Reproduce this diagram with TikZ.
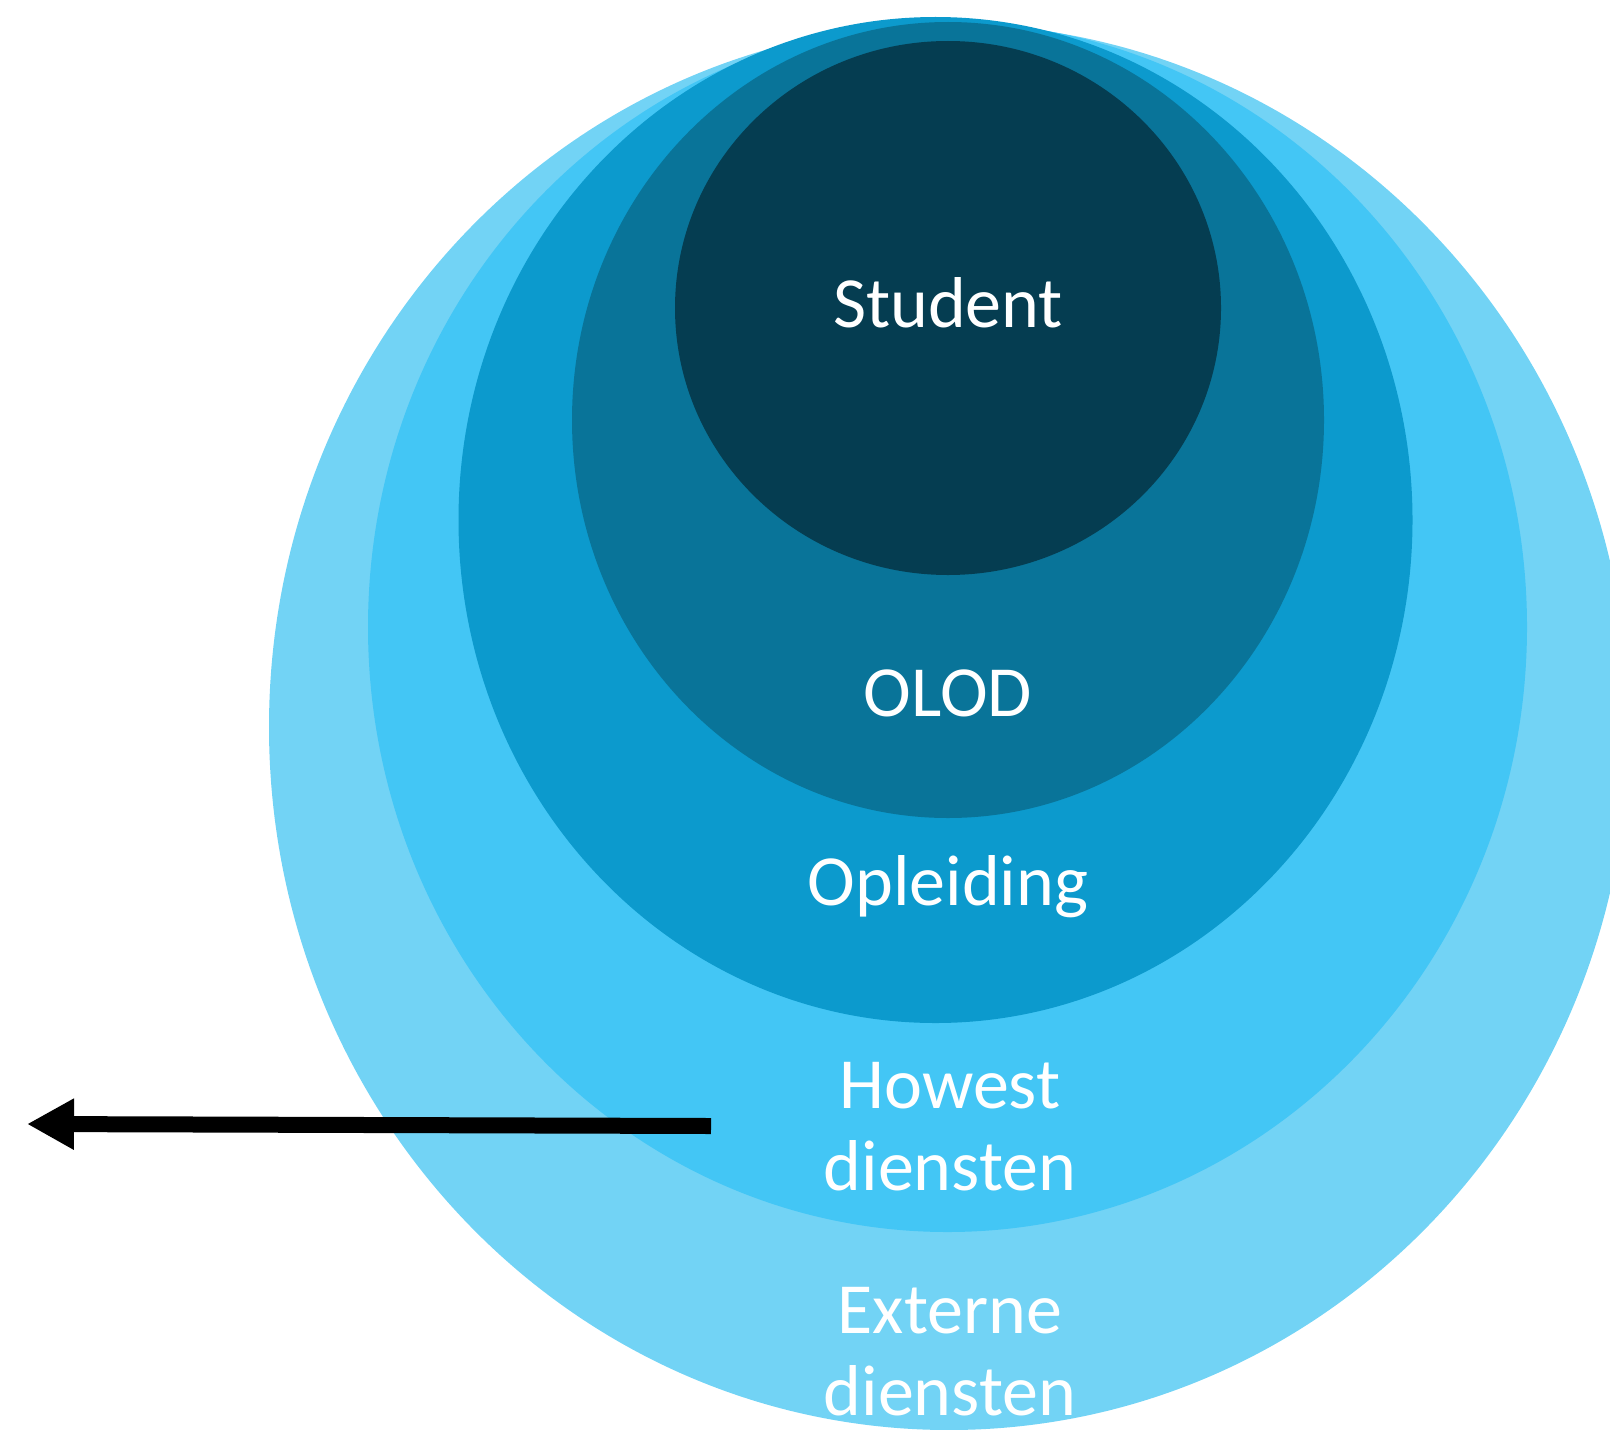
\documentclass[tikz,border=0pt]{standalone}
\usepackage{fontspec}
\setmainfont{Carlito}
\usetikzlibrary{arrows.meta}
\definecolor{ringA}{HTML}{72D3F5}
\definecolor{ringB}{HTML}{43C6F5}
\definecolor{ringC}{HTML}{0C9ACD}
\definecolor{ringD}{HTML}{097499}
\definecolor{ringE}{HTML}{053D51}
\begin{document}
\begin{tikzpicture}[x=0.5pt,y=-0.5pt,
  lbl/.style={text=white, font=\fontsize{36}{41}\selectfont, align=center, inner sep=0pt, anchor=base},
  bigarrow/.style={line width=8pt, -{Triangle[length=23.5pt,width=24pt]}}]
\useasboundingbox (0,0) rectangle (1610,1429);
\clip (0,0) rectangle (1610,1429);
\fill[ringA] (949,727) ellipse [x radius=340pt, y radius=351.5pt];
\fill[ringB] (947.5,627) ellipse [x radius=289.75pt, y radius=302.5pt];
\fill[ringC] (935.5,520) ellipse [x radius=238.5pt, y radius=251.5pt];
\fill[ringD] (948,420) ellipse [x radius=188pt, y radius=199pt];
\fill[ringE] (948,308) ellipse [x radius=136.5pt, y radius=133.5pt];
\node[lbl] (student) at (948,327.7) {Student};
\node[lbl] (olod) at (948,716.7) {OLOD};
\node[lbl] (opleiding) at (948,905) {Opleiding};
\node[lbl] (howest) at (950,1190) {Howest\\diensten};
\node[lbl] (externe) at (950,1415) {Externe\\diensten};
\coordinate (arrowstart) at (711,1126);
\coordinate (arrowtip) at (27,1124);
\draw[bigarrow] (arrowstart) -- (arrowtip);
\end{tikzpicture}
\end{document}
